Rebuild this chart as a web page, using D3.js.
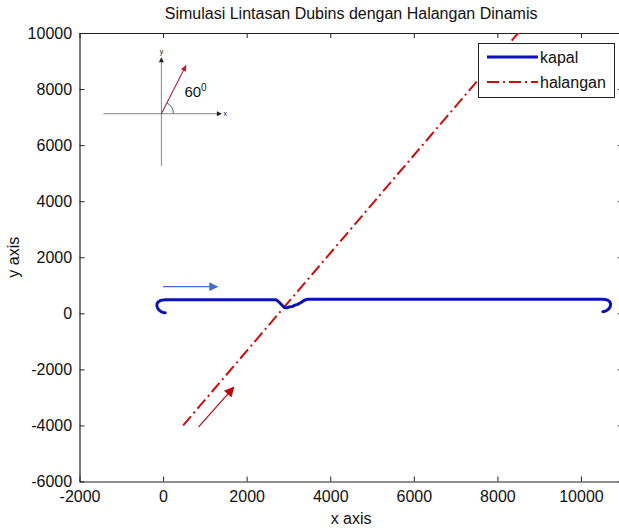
<!DOCTYPE html>
<html>
<head>
<meta charset="utf-8">
<script src="https://cdn.jsdelivr.net/npm/d3@7"></script>
<style>
  body { margin: 0; background: #fff; }
  svg { display: block; }
  text { font-family: "Liberation Sans", Arial, Helvetica, sans-serif; fill: #111; }
</style>
</head>
<body>
<svg id="chart" width="619" height="528"></svg>
<script>
// ---- data ----
const xTicks = [-2000, 0, 2000, 4000, 6000, 8000, 10000];
const yTicks = [-6000, -4000, -2000, 0, 2000, 4000, 6000, 8000, 10000];

// ship path (kapal): start turn, straight run, avoidance dip, straight run, end turn
const kapalX = [50, 0, -50, -100, -135, -150, -140, -105, -50, 10, 60,
  1000, 2000, 2700, 2760, 2820, 2880, 2930, 2980, 3040, 3100, 3160, 3220, 3280, 3340, 3400, 3460,
  5000, 8000, 10500, 10580, 10640, 10690, 10710, 10700, 10665, 10610, 10550, 10525];
const kapalY = [20, 30, 60, 120, 200, 280, 360, 420, 462, 478, 480,
  480, 480, 480, 420, 330, 240, 195, 200, 235, 245, 290, 320, 370, 425, 480, 500,
  500, 500, 500, 495, 470, 410, 330, 240, 160, 95, 62, 55];

// moving obstacle (halangan) heading 60 degrees
const halanganX = [480, 8900];
const halanganY = [-4000, 10700];

const legendLabels = ["kapal", "halangan"];

// ---- layout ----
const svg = d3.select("#chart");
const mLeft = 79.5, mTop = 33, mRight = 622.75, mBottom = 481.5;

const x = d3.scaleLinear().domain([-2000, 11000]).range([mLeft, mRight]);
const y = d3.scaleLinear().domain([-6000, 10000]).range([mBottom, mTop]);

const blue = "#0c12b8";
const red = "#d40a0a";

svg.append("rect").attr("width", 619).attr("height", 528).attr("fill", "#fff");

const defs = svg.append("defs");
defs.append("clipPath").attr("id", "plotClip")
  .append("rect").attr("x", mLeft).attr("y", mTop)
  .attr("width", mRight - mLeft).attr("height", mBottom - mTop);

function marker(id, color, w, h) {
  defs.append("marker").attr("id", id)
    .attr("viewBox", "0 0 10 10").attr("refX", 9).attr("refY", 5)
    .attr("markerWidth", w).attr("markerHeight", h)
    .attr("markerUnits", "userSpaceOnUse")
    .attr("orient", "auto")
    .append("path").attr("d", "M0,0 L10,5 L0,10 Z").attr("fill", color);
}
marker("arrBlue", "#3f6fce", 10, 9);
marker("arrRed", "#c40000", 11, 10);
marker("arrInsetRed", "#b5203a", 7, 6);
marker("arrInsetBlack", "#222", 6, 5);

// ---- axes frame and ticks (ticks point inward) ----
const tickFmt = d => String(d);
const axisFont = "16px";

const gx = svg.append("g").attr("transform", `translate(0,${mBottom})`)
  .call(d3.axisBottom(x).tickValues(xTicks).tickSizeInner(-5).tickSizeOuter(0).tickPadding(9).tickFormat(tickFmt));
const gxTop = svg.append("g").attr("transform", `translate(0,${mTop})`)
  .call(d3.axisTop(x).tickValues(xTicks).tickSizeInner(-5).tickSizeOuter(0).tickFormat(""));
const gy = svg.append("g").attr("transform", `translate(${mLeft},0)`)
  .call(d3.axisLeft(y).tickValues(yTicks).tickSizeInner(-5).tickSizeOuter(0).tickPadding(9).tickFormat(tickFmt));
const gyRight = svg.append("g").attr("transform", `translate(${mRight},0)`)
  .call(d3.axisRight(y).tickValues(yTicks).tickSizeInner(-5).tickSizeOuter(0).tickFormat(""));

[gx, gxTop, gy, gyRight].forEach(g => {
  g.select(".domain").attr("stroke", "#222").attr("stroke-width", 1.2);
  g.selectAll(".tick line").attr("stroke", "#222");
  g.selectAll("text").style("font-size", axisFont).attr("fill", "#111")
    .style("font-family", "\"Liberation Sans\", Arial, sans-serif");
});
gy.selectAll("text").attr("dx", "0.1em");

// ---- series ----
const plot = svg.append("g").attr("clip-path", "url(#plotClip)");

const kapalPts = kapalX.map((v, i) => [v, kapalY[i]]);
const halPts = halanganX.map((v, i) => [v, halanganY[i]]);

const lineGen = d3.line().x(d => x(d[0])).y(d => y(d[1]));

plot.append("path").datum(halPts)
  .attr("d", lineGen)
  .attr("fill", "none").attr("stroke", red).attr("stroke-width", 2)
  .attr("stroke-dasharray", "12,4,2,4");

plot.append("path").datum(kapalPts)
  .attr("d", lineGen)
  .attr("fill", "none").attr("stroke", blue).attr("stroke-width", 3)
  .attr("stroke-linejoin", "round").attr("stroke-linecap", "round");

// ---- direction arrows ----
const blueArrowX = [0, 1300], blueArrowY = [950, 950];
const redArrowX = [850, 1690], redArrowY = [-4050, -2640];

svg.append("line")
  .attr("x1", x(blueArrowX[0])).attr("y1", y(blueArrowY[0]))
  .attr("x2", x(blueArrowX[1])).attr("y2", y(blueArrowY[1]))
  .attr("stroke", "#3f6fce").attr("stroke-width", 1.2)
  .attr("marker-end", "url(#arrBlue)");

svg.append("line")
  .attr("x1", x(redArrowX[0])).attr("y1", y(redArrowY[0]))
  .attr("x2", x(redArrowX[1])).attr("y2", y(redArrowY[1]))
  .attr("stroke", "#c40000").attr("stroke-width", 1.2)
  .attr("marker-end", "url(#arrRed)");

// ---- heading sketch (60 degree reference) ----
const insetOrigin = [-40, 7120];
const ox = x(insetOrigin[0]), oy = y(insetOrigin[1]);
const inset = svg.append("g");
inset.append("line").attr("x1", ox - 58).attr("y1", oy).attr("x2", ox + 60).attr("y2", oy)
  .attr("stroke", "#777").attr("stroke-width", 0.9).attr("marker-end", "url(#arrInsetBlack)");
inset.append("line").attr("x1", ox).attr("y1", oy + 52).attr("x2", ox).attr("y2", oy - 56)
  .attr("stroke", "#777").attr("stroke-width", 0.9).attr("marker-end", "url(#arrInsetBlack)");
inset.append("text").attr("x", ox + 62).attr("y", oy + 2.5).style("font-size", "7px").text("x");
inset.append("text").attr("x", ox).attr("y", oy - 60).attr("text-anchor", "middle").style("font-size", "7px").text("y");
const ang = 63 * Math.PI / 180;
inset.append("line").attr("x1", ox).attr("y1", oy)
  .attr("x2", ox + 54 * Math.cos(ang)).attr("y2", oy - 54 * Math.sin(ang))
  .attr("stroke", "#b5203a").attr("stroke-width", 1.1).attr("marker-end", "url(#arrInsetRed)");
inset.append("path")
  .attr("d", d3.arc().innerRadius(12).outerRadius(12).startAngle(Math.PI / 2 - ang).endAngle(Math.PI / 2)())
  .attr("transform", `translate(${ox},${oy})`)
  .attr("fill", "none").attr("stroke", "#777").attr("stroke-width", 0.8);
const degTxt = inset.append("text").attr("x", ox + 23).attr("y", oy - 17).style("font-size", "15px");
degTxt.append("tspan").text("60");
degTxt.append("tspan").attr("dy", -6).style("font-size", "10px").text("0");

// ---- legend ----
const lg = svg.append("g");
lg.append("rect").attr("x", 478.5).attr("y", 43.5).attr("width", 136).attr("height", 54)
  .attr("fill", "#fff").attr("stroke", "#222").attr("stroke-width", 1);
const legendStyles = [
  { color: blue, width: 3, dash: null },
  { color: red, width: 2, dash: "12,4,2,4" }
];
legendLabels.forEach((lab, i) => {
  const cy = 57 + i * 25;
  lg.append("line").attr("x1", 487).attr("x2", 538).attr("y1", cy).attr("y2", cy)
    .attr("stroke", legendStyles[i].color).attr("stroke-width", legendStyles[i].width)
    .attr("stroke-dasharray", legendStyles[i].dash);
  lg.append("text").attr("x", 540).attr("y", cy + 6).style("font-size", "16px").text(lab);
});

// ---- titles ----
svg.append("text").attr("x", (mLeft + mRight) / 2).attr("y", 19).attr("text-anchor", "middle")
  .style("font-size", "16px").text("Simulasi Lintasan Dubins dengan Halangan Dinamis");
svg.append("text").attr("x", (mLeft + mRight) / 2).attr("y", 524).attr("text-anchor", "middle")
  .style("font-size", "16px").text("x axis");
svg.append("text").attr("transform", `translate(19,${(mTop + mBottom) / 2}) rotate(-90)`)
  .attr("text-anchor", "middle").style("font-size", "16px").text("y axis");
</script>
</body>
</html>
